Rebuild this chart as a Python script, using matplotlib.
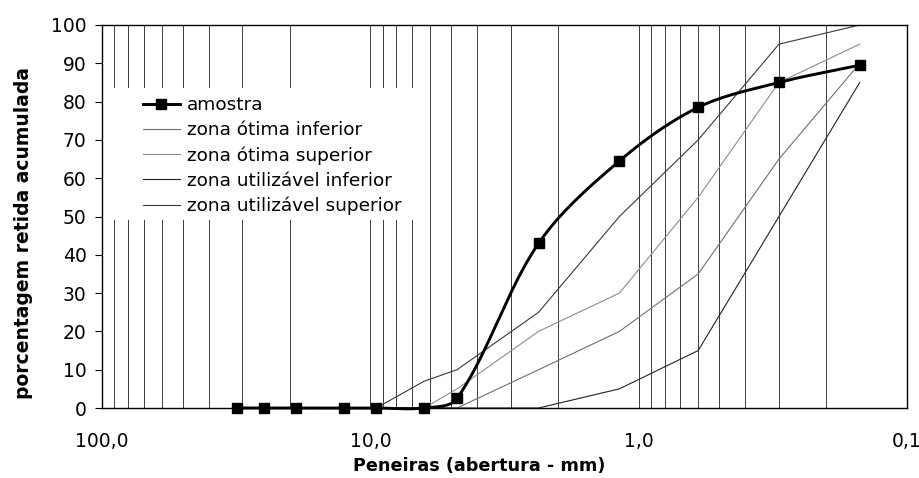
import numpy as np
import matplotlib
matplotlib.use("Agg")
import matplotlib.pyplot as plt
from matplotlib.ticker import LogLocator, FixedLocator, FixedFormatter, NullFormatter
from matplotlib.patches import Rectangle

# Sieve openings (mm) and cumulative retained percentages
sieves = [31.5, 25, 19, 12.5, 9.5, 6.3, 4.75, 2.36, 1.18, 0.6, 0.3, 0.15]
amostra = [0, 0, 0, 0, 0, 0, 2.5, 43, 64.5, 78.5, 85, 89.5]

zone_sieves = [9.5, 6.3, 4.75, 2.36, 1.18, 0.6, 0.3, 0.15]
otima_inferior = [0, 0, 0, 10, 20, 35, 65, 90]
otima_superior = [0, 0, 5, 20, 30, 55, 85, 95]
utilizavel_inferior = [0, 0, 0, 0, 5, 15, 50, 85]
utilizavel_superior = [0, 7, 10, 25, 50, 70, 95, 100]

series_labels = ["amostra", "zona ótima inferior", "zona ótima superior",
                 "zona utilizável inferior", "zona utilizável superior"]

xtick_values = [100, 10, 1, 0.1]
xtick_labels = ["100,0", "10,0", "1,0", "0,1"]
ytick_values = list(range(0, 101, 10))


def smooth_curve(ax, xs, ys, n=40):
    """Bezier smoothing through the points, computed in display space."""
    pts = ax.transData.transform(np.column_stack([xs, ys]).astype(float))
    m = len(pts)
    out = []
    for i in range(m - 1):
        p1, p2 = pts[i], pts[i + 1]
        d12 = np.hypot(*(p2 - p1))
        if i > 0:
            p0 = pts[i - 1]
            d01 = np.hypot(*(p1 - p0))
            c1 = p1 + (p2 - p0) * d12 / (d01 + d12) / 3.0
        else:
            c1 = p1 + (p2 - p1) / 3.0
        if i + 2 < m:
            p3 = pts[i + 2]
            d23 = np.hypot(*(p3 - p2))
            c2 = p2 - (p3 - p1) * d12 / (d12 + d23) / 3.0
        else:
            c2 = p2 - (p2 - p1) / 3.0
        t = np.linspace(0, 1, n)[:, None]
        seg = ((1 - t) ** 3) * p1 + 3 * ((1 - t) ** 2) * t * c1 \
            + 3 * (1 - t) * (t ** 2) * c2 + (t ** 3) * p2
        out.append(seg if i == 0 else seg[1:])
    out = ax.transData.inverted().transform(np.vstack(out))
    return out[:, 0], out[:, 1]


plt.rcParams["font.family"] = ["DejaVu Sans"]
FS = 13.5

fig = plt.figure(figsize=(9.2, 4.78), dpi=100)
ax = fig.add_axes([102 / 920, 1 - 408 / 478, 805 / 920, 383 / 478])

ax.set_xscale("log")
ax.set_xlim(100, 0.1)
ax.set_ylim(0, 100)

# zone limit curves
ax.plot(zone_sieves, otima_inferior, color="#707070", lw=0.8, label=series_labels[1], zorder=2)
ax.plot(zone_sieves, otima_superior, color="#8c8c8c", lw=0.8, label=series_labels[2], zorder=2)
ax.plot(zone_sieves, utilizavel_inferior, color="#222222", lw=0.8, label=series_labels[3], zorder=2)
ax.plot(zone_sieves, utilizavel_superior, color="#383838", lw=0.8, label=series_labels[4], zorder=2)

# sample curve (smoothed line + square markers)
sx, sy = smooth_curve(ax, sieves, amostra)
ax.plot(sx, sy, color="black", lw=2.1, zorder=3, clip_on=False)
ax.plot(sieves, amostra, ls="none", marker="s", ms=6.5, color="black", zorder=4, clip_on=False)
h_amostra, = ax.plot([], [], color="black", lw=2.1, marker="s", ms=6.5)

# axes styling
ax.xaxis.set_major_locator(FixedLocator(xtick_values))
ax.xaxis.set_major_formatter(FixedFormatter(xtick_labels))
ax.xaxis.set_minor_locator(LogLocator(base=10, subs=range(2, 10), numticks=20))
ax.xaxis.set_minor_formatter(NullFormatter())
ax.tick_params(axis="x", which="both", length=0, pad=17.5, labelsize=FS)
ax.set_yticks(ytick_values)
ax.tick_params(axis="y", which="major", length=5, width=0.8, direction="out", pad=6, labelsize=FS)

ax.set_axisbelow(True)
ax.grid(True, which="both", axis="x", color="#3c3c3c", lw=0.7)
ax.grid(False, axis="y")
for s in ax.spines.values():
    s.set_linewidth(1.0)
    s.set_color("black")

ax.set_xlabel("Peneiras (abertura - mm)", fontsize=12.7, fontweight="bold")
ax.xaxis.set_label_coords((479 - 102) / 805, -(457 - 408) / 383)
ax.set_ylabel("porcentagem retida acumulada", fontsize=FS, fontweight="bold")
ax.yaxis.set_label_coords(-(102 - 33) / 805, (408 - 233) / 383)

# white area behind the legend
ax.add_patch(Rectangle(((108 - 102) / 805, (408 - 220) / 383), (420 - 108) / 805, (220 - 88) / 383,
                       transform=ax.transAxes, facecolor="white", edgecolor="none", zorder=1))

handles, labels = ax.get_legend_handles_labels()
leg = ax.legend([h_amostra] + handles, [series_labels[0]] + labels,
                loc="upper left", bbox_to_anchor=((143 - 102) / 805, (408 - 96) / 383),
                frameon=False, fontsize=13.3, numpoints=1, handlelength=2.0,
                handletextpad=0.37, labelspacing=0.38, borderpad=0, borderaxespad=0)
leg.set_zorder(5)

fig.savefig("out.png", dpi=100)
